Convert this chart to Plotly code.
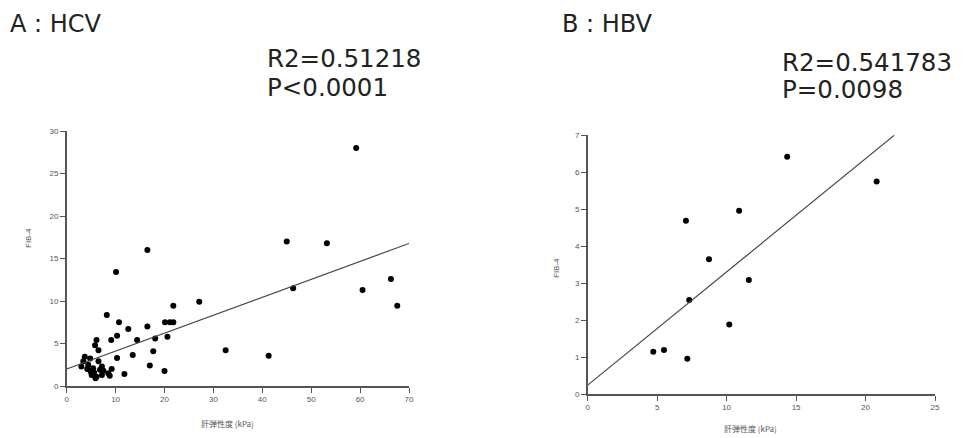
import plotly.graph_objects as go

# ---- Data: A (HCV) ----
hcv_x = [59.2, 45.0, 53.2, 16.5, 10.1, 66.3, 46.3, 60.5, 67.6, 27.1, 21.8, 8.2, 10.7,
         20.1, 21.1, 21.8, 16.5, 12.6, 10.3, 9.1, 14.4, 18.1, 20.6, 10.3, 13.5, 17.7,
         32.5, 41.3, 17.0, 20.0, 11.8,
         6.1, 5.8, 6.5, 3.7, 3.4, 4.8, 4.4, 5.4, 6.5, 7.2, 5.1, 6.1, 7.2, 4.9, 8.5,
         9.2, 7.5, 3.0, 5.6, 6.8, 4.2, 5.9, 8.8]
hcv_y = [28.0, 17.0, 16.8, 16.0, 13.4, 12.6, 11.5, 11.3, 9.45, 9.9, 9.45, 8.35, 7.5,
         7.5, 7.5, 7.5, 7.0, 6.7, 5.9, 5.4, 5.4, 5.6, 5.8, 3.3, 3.65, 4.1,
         4.2, 3.57, 2.4, 1.76, 1.4,
         5.4, 4.8, 4.2, 3.45, 2.9, 3.25, 2.5, 2.1, 2.9, 2.3, 1.3, 1.1, 1.3, 1.7, 1.5,
         2.0, 1.8, 2.3, 1.6, 1.9, 2.0, 0.9, 1.2]
hcv_fit = [2.0, 0.211]      # intercept, slope
hcv_range = [0, 70]

# ---- Data: B (HBV) ----
hbv_x = [14.36, 20.8, 10.9, 7.07, 8.73, 11.6, 7.31, 10.19, 5.49, 4.72, 7.17]
hbv_y = [6.41, 5.74, 4.95, 4.68, 3.64, 3.08, 2.54, 1.88, 1.19, 1.14, 0.95]
hbv_fit = [0.24, 0.306]
hbv_range = [0, 22.06]

x_ticks_a = [0, 10, 20, 30, 40, 50, 60, 70]
y_ticks_a = [0, 5, 10, 15, 20, 25, 30]
x_ticks_b = [0, 5, 10, 15, 20, 25]
y_ticks_b = [0, 1, 2, 3, 4, 5, 6, 7]

fig = go.Figure()

mk = dict(color="black", size=6, symbol="circle")
fig.add_trace(go.Scatter(x=hcv_x, y=hcv_y, mode="markers", marker=mk,
                         xaxis="x", yaxis="y", showlegend=False))
fig.add_trace(go.Scatter(x=hcv_range,
                         y=[hcv_fit[0] + hcv_fit[1] * v for v in hcv_range],
                         mode="lines", line=dict(color="#444", width=1.2),
                         xaxis="x", yaxis="y", showlegend=False))
fig.add_trace(go.Scatter(x=hbv_x, y=hbv_y, mode="markers", marker=mk,
                         xaxis="x2", yaxis="y2", showlegend=False))
fig.add_trace(go.Scatter(x=hbv_range,
                         y=[hbv_fit[0] + hbv_fit[1] * v for v in hbv_range],
                         mode="lines", line=dict(color="#444", width=1.2),
                         xaxis="x2", yaxis="y2", showlegend=False))

W, H = 963, 438
def px(v): return v / W
def py(v): return (H - v) / H

axis_common = dict(showline=True, linecolor="#555", linewidth=1.5, ticks="outside",
                   ticklen=5, tickwidth=1, tickcolor="#555", showgrid=False,
                   zeroline=False, automargin=False,
                   tickfont=dict(size=8, color="#555", family="Liberation Sans"))

fig.update_layout(
    width=W, height=H, margin=dict(l=0, r=0, t=0, b=0, autoexpand=False),
    plot_bgcolor="white", paper_bgcolor="white",
    xaxis=dict(domain=[px(66.7), px(409)], range=[0, 70], tickvals=x_ticks_a,
               anchor="y", **axis_common),
    yaxis=dict(domain=[py(386), py(131)], range=[0, 30], tickvals=y_ticks_a,
               anchor="x", **axis_common),
    xaxis2=dict(domain=[px(587.7), px(935)], range=[0, 25], tickvals=x_ticks_b,
                anchor="y2", **axis_common),
    yaxis2=dict(domain=[py(394), py(135)], range=[0, 7], tickvals=y_ticks_b,
                anchor="x2", **axis_common),
    font=dict(family="Liberation Sans", color="#222"),
)

def ann(text, x, y, size, xanchor="left", angle=0, color="#222",
        family="DejaVu Sans", height=None):
    fig.add_annotation(text=text, x=px(x), y=py(y), xref="paper", yref="paper",
                       showarrow=False, xanchor=xanchor, yanchor="middle",
                       textangle=angle, height=height, borderpad=0,
                       font=dict(size=size, color=color, family=family))

ann("A : HCV", 9, 24, 24)
ann("R2=0.51218", 266, 58, 24.5, height=26)
ann("P<0.0001", 266, 87, 24.5, height=26)
ann("B : HBV", 561, 24, 24)
ann("R2=0.541783", 781, 62, 24.5, height=26)
ann("P=0.0098", 781, 89, 24.5, height=26)

ann("肝弾性度 (kPa)", 227, 423, 8, xanchor="center", color="#555",
    family="Noto Sans CJK JP")
ann("肝弾性度 (kPa)", 750, 428, 8, xanchor="center", color="#555",
    family="Noto Sans CJK JP")
ann("FIB-4", 28, 238, 8, xanchor="center", angle=-90, color="#555",
    family="Liberation Sans")
ann("FIB-4", 556, 268, 8, xanchor="center", angle=-90, color="#555",
    family="Liberation Sans")

fig.write_html("out.html", config={"displayModeBar": False},
               post_script="document.body.style.margin='0';")
